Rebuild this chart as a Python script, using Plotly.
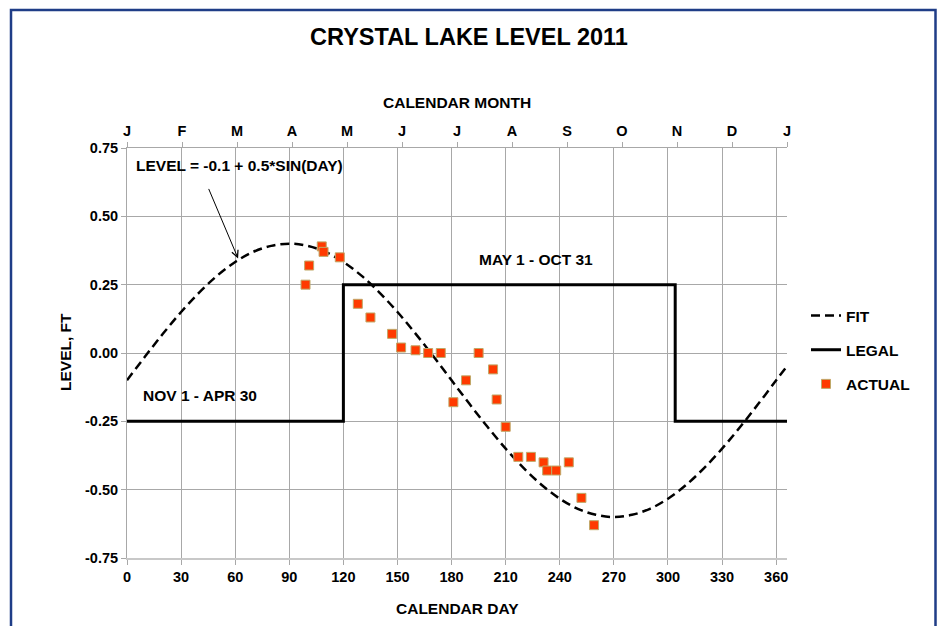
import plotly.graph_objects as go

# ---- data ----
FIT_DAY = [0, 10, 20, 30, 40, 50, 60, 70, 80, 90, 100, 110, 120, 130, 140, 150, 160, 170, 180,
           190, 200, 210, 220, 230, 240, 250, 260, 270, 280, 290, 300, 310, 320, 330, 340, 350, 360, 366]
FIT_LEVEL = [-0.100, -0.013, 0.071, 0.150, 0.221, 0.283, 0.333, 0.370, 0.392, 0.400,
             0.392, 0.370, 0.333, 0.283, 0.221, 0.150, 0.071, -0.013, -0.100,
             -0.187, -0.271, -0.350, -0.421, -0.483, -0.533, -0.570, -0.592, -0.600,
             -0.592, -0.570, -0.533, -0.483, -0.421, -0.350, -0.271, -0.187, -0.100, -0.048]

LEGAL_DAY = [0, 120, 304, 366]
LEGAL_LEVEL = [-0.25, 0.25, -0.25, -0.25]

ACTUAL_DAY = [99, 101, 108, 109, 118, 128, 135, 147, 152, 160, 167, 174, 181, 188, 195,
              203, 205, 210, 217, 224, 231, 233, 238, 245, 252, 259]
ACTUAL_LEVEL = [0.25, 0.32, 0.39, 0.37, 0.35, 0.18, 0.13, 0.07, 0.02, 0.01, 0.00, 0.00, -0.18,
                -0.10, 0.00, -0.06, -0.17, -0.27, -0.38, -0.38, -0.40, -0.43, -0.43, -0.40,
                -0.53, -0.63]

MONTH_LABELS = ["J", "F", "M", "A", "M", "J", "J", "A", "S", "O", "N", "D", "J"]
DAY_TICKS = [0, 30, 60, 90, 120, 150, 180, 210, 240, 270, 300, 330, 360]
LEVEL_TICKS = [0.75, 0.5, 0.25, 0.0, -0.25, -0.5, -0.75]

FONT = "Liberation Sans, Arial, sans-serif"
TICKF = dict(family=FONT, size=14.5, color="black", weight="bold")
ANNF = dict(family=FONT, size=15.5, color="black", weight="bold")

fig = go.Figure()

fig.add_trace(go.Scatter(
    x=FIT_DAY, y=FIT_LEVEL, mode="lines", name="FIT", legendgroup="a",
    line=dict(color="black", width=2.5, dash="9px,5px", shape="spline"),
))
fig.add_trace(go.Scatter(
    x=LEGAL_DAY, y=LEGAL_LEVEL, mode="lines", name="LEGAL", legendgroup="b",
    line=dict(color="black", width=3, shape="hv"),
))
fig.add_trace(go.Scatter(
    x=ACTUAL_DAY, y=ACTUAL_LEVEL, mode="markers", name="ACTUAL", legendgroup="c",
    marker=dict(symbol="square", size=9, color="#FF3A00",
                line=dict(color="#C0A868", width=1)),
))
# carrier for the month axis (no visible marks)
fig.add_trace(go.Scatter(
    x=[0, 12], y=[0, 0], xaxis="x2", mode="markers", marker=dict(size=0, opacity=0),
    showlegend=False, hoverinfo="skip",
))

W, H = 938, 626
L, T = 127, 148
R = W - 787
B = H - 558
pw, ph = W - L - R, H - T - B

def px(xp):
    return (xp - L) / pw

def py(yp):
    return (H - B - yp) / ph

fig.update_layout(
    width=W, height=H,
    margin=dict(l=L, r=R, t=T, b=B),
    paper_bgcolor="white", plot_bgcolor="white",
    font=dict(family=FONT, color="black"),
    title=dict(text="<b>CRYSTAL LAKE LEVEL 2011</b>", x=469 / W, xanchor="center",
               y=1 - 37 / H, yanchor="middle",
               font=dict(family=FONT, size=23.5, color="black")),
    showlegend=True,
    legend=dict(x=px(806), y=py(299), xanchor="left", yanchor="top",
                font=dict(family=FONT, size=15.5, color="black", weight="bold"),
                tracegroupgap=11, bgcolor="rgba(0,0,0,0)", itemwidth=30),
    xaxis=dict(range=[0, 366], tickvals=DAY_TICKS, ticktext=[str(v) for v in DAY_TICKS],
               showgrid=True, gridcolor="#A8A8A8", gridwidth=1,
               showline=True, linecolor="#C8C8C8", linewidth=2,
               ticks="outside", ticklen=5, tickcolor="#A8A8A8",
               tickfont=TICKF, zeroline=False, anchor="y", mirror=False),
    xaxis2=dict(range=[0, 12], tickvals=list(range(13)), ticktext=MONTH_LABELS,
                overlaying="x", side="top", anchor="y", showgrid=False,
                showline=True, linecolor="#A8A8A8", linewidth=1,
                ticks="outside", ticklen=5, tickcolor="#A8A8A8",
                tickfont=TICKF, zeroline=False),
    yaxis=dict(range=[-0.75, 0.75], tickvals=LEVEL_TICKS,
               ticktext=[f"{v:.2f}" for v in LEVEL_TICKS],
               showgrid=True, gridcolor="#A8A8A8", gridwidth=1,
               showline=True, linecolor="#A8A8A8", linewidth=1,
               ticks="outside", ticklen=5, tickcolor="#A8A8A8",
               tickfont=TICKF, zeroline=False),
)

ann = [
    dict(text="<b>CALENDAR MONTH</b>", x=px(457), y=py(103), xref="paper", yref="paper",
         showarrow=False, font=ANNF, xanchor="center", yanchor="middle"),
    dict(text="<b>CALENDAR DAY</b>", x=px(457), y=py(608), xref="paper", yref="paper",
         showarrow=False, font=ANNF, xanchor="center", yanchor="middle"),
    dict(text="<b>LEVEL, FT</b>", x=px(65), y=py(352), xref="paper", yref="paper",
         showarrow=False, font=ANNF, textangle=-90, xanchor="center", yanchor="middle"),
    dict(text="<b>LEVEL = -0.1 + 0.5*SIN(DAY)</b>", x=px(239), y=py(165), xref="paper",
         yref="paper", showarrow=False, font=ANNF, xanchor="center", yanchor="middle"),
    dict(text="", x=61.6, y=0.346, xref="x", yref="y", showarrow=True, ax=-30, ay=-71,
         arrowhead=5, arrowsize=1.3, arrowwidth=1, arrowcolor="black", standoff=0),
    dict(text="<b>MAY 1 - OCT 31</b>", x=px(536), y=py(259), xref="paper", yref="paper",
         showarrow=False, font=ANNF, xanchor="center", yanchor="middle"),
    dict(text="<b>NOV 1 - APR 30</b>", x=px(200), y=py(395), xref="paper", yref="paper",
         showarrow=False, font=ANNF, xanchor="center", yanchor="middle"),
]
fig.update_layout(annotations=ann)

fig.add_shape(type="rect", xref="paper", yref="paper",
              x0=px(11), x1=px(935.5), y0=py(660), y1=py(10),
              line=dict(color="#1F3D87", width=2.5), fillcolor="rgba(0,0,0,0)", layer="below")

fig.write_html(
    "out.html",
    config={"displayModeBar": False},
    post_script="document.body.style.margin='0';document.body.style.overflow='hidden';",
)
